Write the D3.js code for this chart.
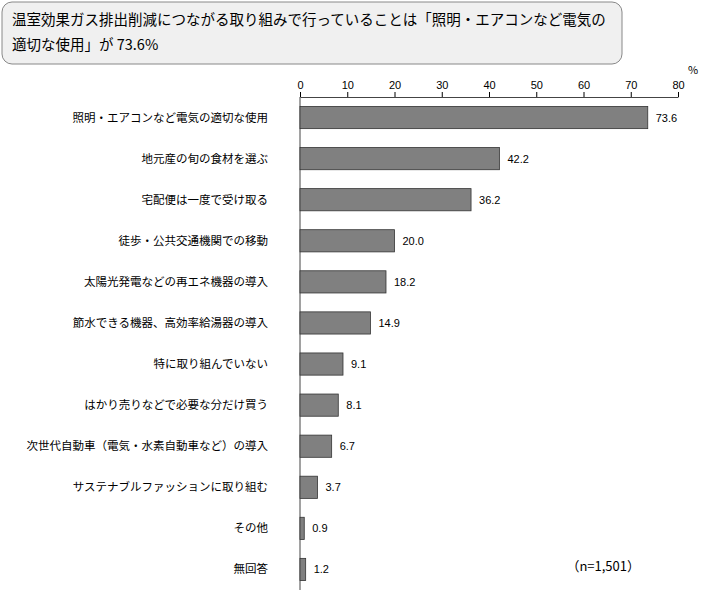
<!DOCTYPE html>
<html><head><meta charset="utf-8">
<script src="https://cdn.jsdelivr.net/npm/d3@7"></script>
<style>body{margin:0;background:#fff}svg{font-family:"Noto Sans CJK JP",sans-serif}</style>
</head><body>
<svg id="c" width="710" height="598"></svg>
<script>
const categories=["照明・エアコンなど電気の適切な使用","地元産の旬の食材を選ぶ","宅配便は一度で受け取る","徒歩・公共交通機関での移動","太陽光発電などの再エネ機器の導入","節水できる機器、高効率給湯器の導入","特に取り組んでいない","はかり売りなどで必要な分だけ買う","次世代自動車（電気・水素自動車など）の導入","サステナブルファッションに取り組む","その他","無回答"];
const values=[73.6,42.2,36.2,20.0,18.2,14.9,9.1,8.1,6.7,3.7,0.9,1.2];
const ticks=[0,10,20,30,40,50,60,70,80];
const svg=d3.select("#c");
svg.append("rect").attr("x",2).attr("y",2).attr("width",620).attr("height",62).attr("rx",10)
 .attr("fill","#f0f0f0").attr("stroke","#888");
svg.append("text").attr("x",12).attr("y",25).attr("font-size",14.5).text("温室効果ガス排出削減につながる取り組みで行っていることは「照明・エアコンなど電気の");
svg.append("text").attr("x",12).attr("y",50).attr("font-size",14.5).text("適切な使用」が 73.6%");
const x=d3.scaleLinear().domain([0,80]).range([300,678]);
const y=d3.scaleBand().domain(categories).range([97,590]).paddingInner(0.46).paddingOuter(0.23);
const ax=svg.append("g").attr("transform","translate(0,97)").call(d3.axisTop(x).tickValues(ticks).tickSize(5).tickSizeOuter(0));
ax.select(".domain").attr("stroke","#444");
ax.selectAll("text").attr("font-size",11).attr("font-family","Arial,sans-serif").attr("fill","#000");
svg.append("line").attr("x1",300).attr("x2",300).attr("y1",97).attr("y2",590).attr("stroke","#444");
svg.append("text").attr("x",688).attr("y",74).attr("font-size",11).text("%");
svg.selectAll(".b").data(values).join("rect").attr("x",x(0)).attr("y",(d,i)=>y(categories[i]))
 .attr("width",d=>x(d)-x(0)).attr("height",y.bandwidth()).attr("fill","#808080").attr("stroke","#333").attr("stroke-width",0.8);
svg.selectAll(".v").data(values).join("text").attr("x",d=>x(d)+8).attr("y",(d,i)=>y(categories[i])+y.bandwidth()/2+4)
 .attr("font-size",11).attr("font-family","Arial,sans-serif").text(d=>d.toFixed(1));
svg.selectAll(".l").data(categories).join("text").attr("x",268).attr("y",d=>y(d)+y.bandwidth()/2+4)
 .attr("text-anchor","end").attr("font-size",11.5).text(d=>d);
svg.append("text").attr("x",640).attr("y",571).attr("text-anchor","end").attr("font-size",13).text("（n=1,501）");
</script></body></html>
